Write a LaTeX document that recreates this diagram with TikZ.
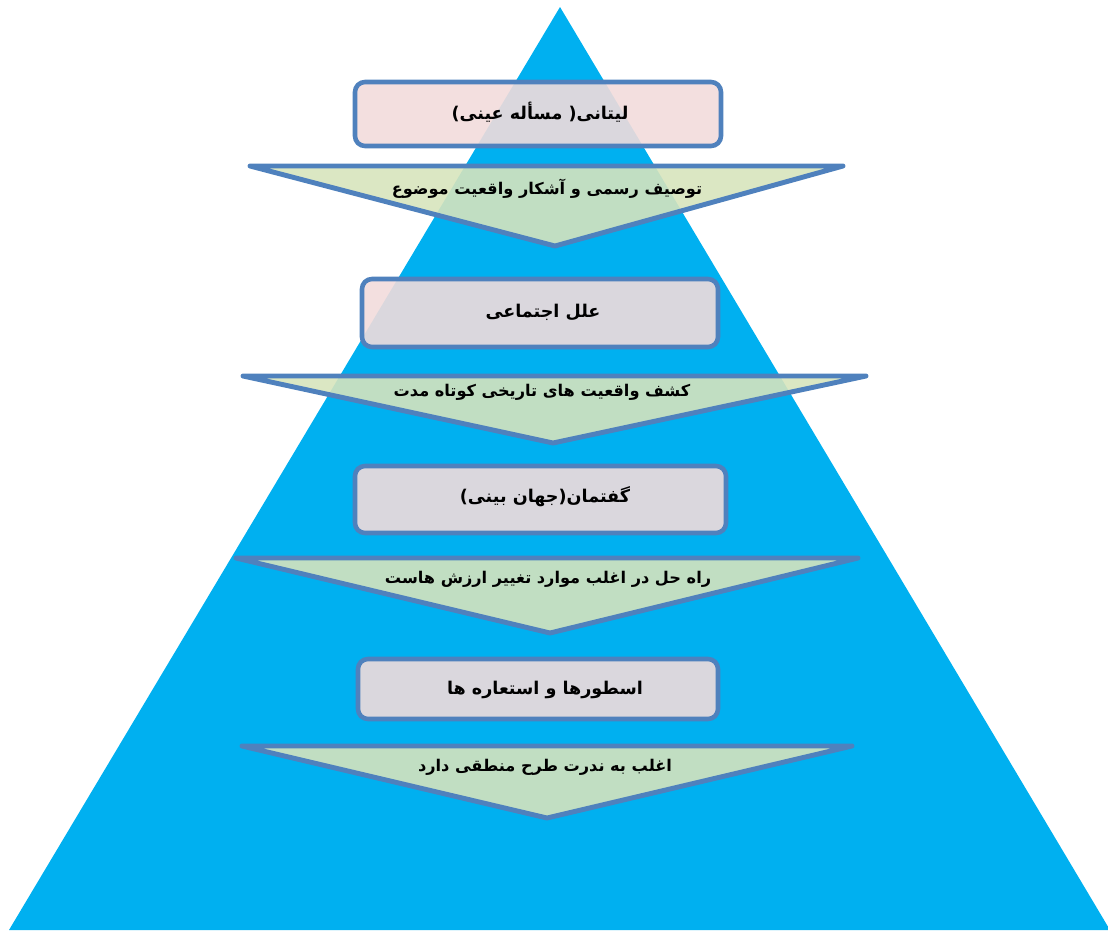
\documentclass[tikz,border=0pt]{standalone}
\usepackage{fontspec}
\newfontfamily\arabicfont[Script=Arabic]{DejaVu Sans}
\TeXXeTstate=1
\definecolor{pyrblue}{HTML}{00B0F0}
\definecolor{edgeblue}{HTML}{4F81BD}
\definecolor{boxpink}{HTML}{F2DCDB}
\definecolor{arrowgreen}{HTML}{D7E4BD}
\tikzset{
  levelbox/.style={draw=edgeblue, line width=2.6pt, fill=boxpink, fill opacity=0.9, rounded corners=0.2cm},
  downarrow/.style={draw=edgeblue, line width=2.8pt, fill=arrowgreen, fill opacity=0.9, line join=round, line cap=round},
  boxlabel/.style={font=\arabicfont\bfseries\fontsize{10}{12}\selectfont, text=black, inner sep=0pt},
  arrowlabel/.style={font=\arabicfont\bfseries\fontsize{9.2}{11}\selectfont, text=black, inner sep=0pt}
}
\begin{document}
\begin{tikzpicture}[x=0.02cm, y=-0.02cm]
  \useasboundingbox (0,0) rectangle (1108,930);
  %%%%%%%%%%%%%The pyramid%%%%%%%%%%%%%%%%%%%%%%
  \fill[pyrblue] (560,7) -- (1110,930) -- (9,930) -- cycle;

  %%%%%%%%%%%%%The first level%%%%%%%%%%%%%%%%%%%%%%
  \draw[levelbox] (355,82) rectangle (721,146);
  \node[boxlabel] (box1) at (540,112) {\beginR لیتانی( مسأله عینی)\endR};
  \draw[downarrow] (250,166) -- (843,166) -- (555,246) -- cycle;
  \node[arrowlabel] (tri1) at (547,189) {\beginR توصیف رسمی و آشکار واقعیت موضوع\endR};

  %%%%%%%%%%%%%The second level%%%%%%%%%%%%%%%%%%%%%%
  \draw[levelbox] (362,279) rectangle (718,347);
  \node[boxlabel] (box2) at (543,312) {\beginR علل اجتماعی\endR};
  \draw[downarrow] (243,376) -- (866,376) -- (553,443) -- cycle;
  \node[arrowlabel] (tri2) at (542,392) {\beginR کشف واقعیت های تاریخی کوتاه مدت\endR};

  %%%%%%%%%%%%%The third level%%%%%%%%%%%%%%%%%%%%%%
  \draw[levelbox] (355,466) rectangle (726,533);
  \node[boxlabel] (box3) at (545,497) {\beginR گفتمان(جهان بینی)\endR};
  \draw[downarrow] (236,558) -- (858,558) -- (550,633) -- cycle;
  \node[arrowlabel] (tri3) at (548,579) {\beginR راه حل در اغلب موارد تغییر ارزش هاست\endR};

  %%%%%%%%%%%%%The fourth level%%%%%%%%%%%%%%%%%%%%%%
  \draw[levelbox] (358,659) rectangle (718,719);
  \node[boxlabel] (box4) at (545,690) {\beginR اسطورها و استعاره ها\endR};
  \draw[downarrow] (242,746) -- (852,746) -- (547,818) -- cycle;
  \node[arrowlabel] (tri4) at (545,767) {\beginR اغلب به ندرت طرح منطقی دارد\endR};
\end{tikzpicture}
\end{document}
